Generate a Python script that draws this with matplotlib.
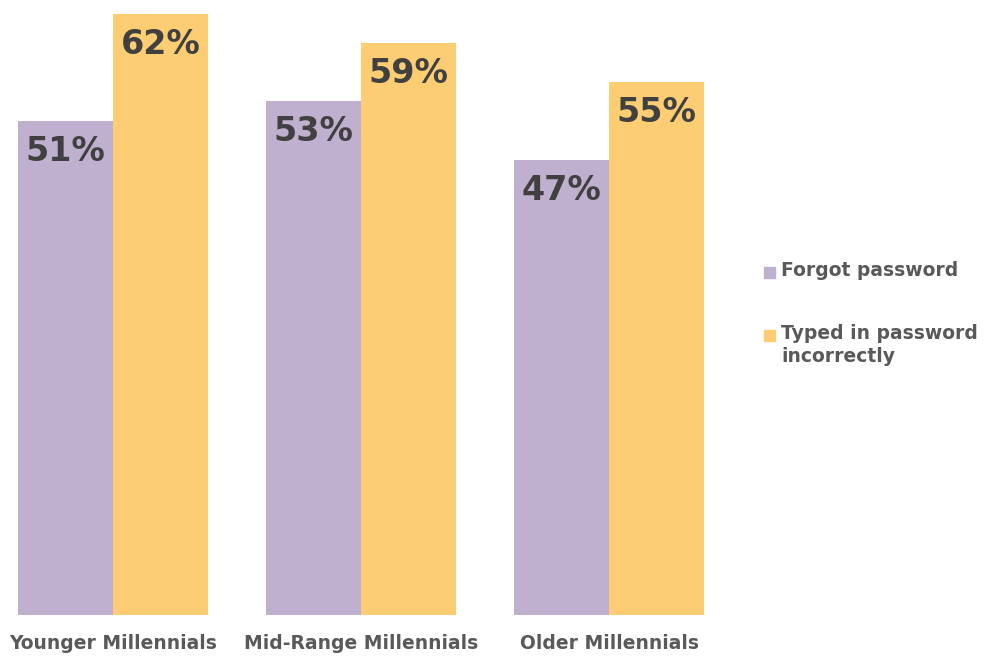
import matplotlib.pyplot as plt
from matplotlib.patches import Rectangle
import numpy as np

groups = ["Younger Millennials", "Mid-Range Millennials", "Older Millennials"]
series = ["Forgot password", "Typed in password\nincorrectly"]
forgot = [51, 53, 47]
typed_wrong = [62, 59, 55]

colors = ["#BEB0CE", "#FDCD74"]
text_dark = "#404040"
text_grey = "#595959"

W, H, DPI = 984, 657, 100
fig = plt.figure(figsize=(W / DPI, H / DPI), dpi=DPI)

# axes in pixel terms: baseline at y=615, group spacing 248px
ax = fig.add_axes([0, (H - 615) / H, 740 / W, 615 / H])
x = np.arange(len(groups))
width = 0.385
ax.set_xlim(-113 / 248, (740 - 113) / 248)
ax.set_ylim(0, 615 / 9.69)

for i, (vals, c) in enumerate(zip([forgot, typed_wrong], colors)):
    pos = x + (i - 0.5) * width
    ax.bar(pos, vals, width=width, color=c, edgecolor="none")
    for px, v in zip(pos, vals):
        ax.annotate(f"{v}%", (px, v), xytext=(0, -22), textcoords="offset points",
                    ha="center", va="center", fontsize=24, fontweight="bold",
                    color=text_dark)

ax.set_xticks(x)
ax.set_xticklabels(groups, fontsize=13.5, fontweight="bold", color=text_grey)
ax.tick_params(axis="x", length=0, pad=14)
ax.set_yticks([])
for s in ax.spines.values():
    s.set_visible(False)

# legend drawn by hand so the swatch sits on the first text line
legend_y = [272, 335]
for lab, c, py in zip(series, colors, legend_y):
    fig.patches.append(Rectangle((764 / W, (H - py - 6) / H), 11 / W, 11 / H,
                                 transform=fig.transFigure, color=c))
    fig.text(781 / W, (H - py + 11) / H, lab, ha="left", va="top",
             fontsize=13.5, fontweight="bold", color=text_grey, linespacing=1.3)

fig.savefig("out.png", dpi=DPI)
